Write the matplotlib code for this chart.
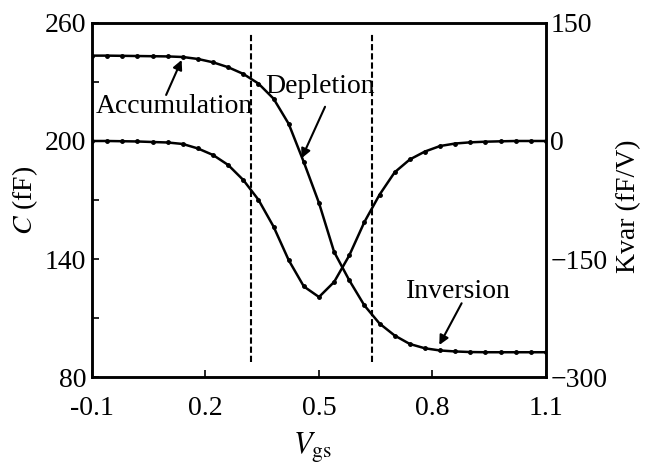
import numpy as np
import matplotlib
matplotlib.use("Agg")
import matplotlib.pyplot as plt

plt.rcParams['font.family'] = ['Liberation Serif', 'DejaVu Serif']
plt.rcParams['mathtext.fontset'] = 'stix'

# gate voltage samples (V)
vgs = [-0.10, -0.06, -0.02, 0.02, 0.06, 0.10, 0.14, 0.18, 0.22, 0.26, 0.30,
       0.34, 0.38, 0.42, 0.46, 0.50, 0.54, 0.58, 0.62, 0.66, 0.70, 0.74,
       0.78, 0.82, 0.86, 0.90, 0.94, 0.98, 1.02, 1.06, 1.10]

# capacitance C (fF), left axis
cap = [243.4, 243.4, 243.3, 243.2, 243.1, 243.0, 242.7, 241.7, 240.0, 237.5,
       234.1, 229.2, 221.5, 208.7, 189.2, 168.5, 143.6, 129.2, 116.4, 107.2,
       101.1, 96.8, 94.6, 93.5, 93.0, 92.7, 92.6, 92.6, 92.6, 92.6, 92.6]

# Kvar = dC/dV (fF/V), right axis
kvar = [0.0, 0.0, -0.3, -0.6, -1.3, -1.9, -3.8, -9.5, -17.8, -30.5, -49.6,
        -74.7, -108.9, -151.5, -184.9, -198.3, -179.2, -145.5, -103.0, -68.3,
        -39.8, -23.5, -13.4, -6.4, -3.2, -1.7, -0.9, -0.4, 0.0, 0.0, 0.0]

region_bounds = [0.32, 0.64]

xticks = [-0.1, 0.2, 0.5, 0.8, 1.1]
xticklabels = ['-0.1', '0.2', '0.5', '0.8', '1.1']
cticks = [80, 140, 200, 260]
kticks = [-300, -150, 0, 150]
kticklabels = ['\u2212300', '\u2212150', '0', '150']

fs = 20

fig = plt.figure(figsize=(6.45, 4.68), dpi=100)
ax = fig.add_axes([0.1426, 0.1944, 0.7039, 0.7565])
ax2 = ax.twinx()

ax.plot(vgs, cap, color='k', lw=1.8, marker='o', ms=2.5)
ax2.plot(vgs, kvar, color='k', lw=1.8, marker='o', ms=2.5)

for xb in region_bounds:
    ax.axvline(xb, ymin=0.043, ymax=0.972, color='k', lw=1.5,
               linestyle=(0, (3, 1.4)))

ax.set_xlim(-0.1, 1.1)
ax.set_ylim(80, 260)
ax2.set_ylim(-300, 150)

ax.set_xticks(xticks)
ax.set_xticklabels(xticklabels)
ax.set_yticks(cticks)
ax.set_yticks([110, 170, 230], minor=True)
ax.tick_params(axis='x', direction='in', length=5, width=1.2, pad=14,
               labelsize=fs, top=False)
ax.tick_params(axis='y', which='both', direction='in', length=5, width=1.2,
               pad=4, labelsize=fs)
ax2.set_yticks(kticks)
ax2.set_yticklabels(kticklabels)
ax2.tick_params(axis='y', length=0, pad=3, labelsize=fs)

for a in (ax, ax2):
    for sp in a.spines.values():
        sp.set_linewidth(1.8)

# region annotations
ax.text(0.117, 214.2, 'Accumulation', ha='center', va='baseline', fontsize=fs)
ax.annotate('', xy=(0.137, 241.2), xytext=(0.096, 223.4),
            arrowprops=dict(arrowstyle='-|>', color='k', lw=1.5,
                            mutation_scale=14, shrinkA=0, shrinkB=0))
ax.text(0.504, 224.3, 'Depletion', ha='center', va='baseline', fontsize=fs)
ax.annotate('', xy=(0.454, 191.2), xytext=(0.516, 217.4),
            arrowprops=dict(arrowstyle='-|>', color='k', lw=1.5,
                            mutation_scale=14, shrinkA=0, shrinkB=0))
ax.text(0.868, 120.2, 'Inversion', ha='center', va='baseline', fontsize=fs)
ax.annotate('', xy=(0.818, 96.3), xytext=(0.877, 117.5),
            arrowprops=dict(arrowstyle='-|>', color='k', lw=1.5,
                            mutation_scale=14, shrinkA=0, shrinkB=0))

fig.text(0.0388, 0.5726, r'$C$ (fF)', rotation=90, ha='center', va='center',
         fontsize=fs)
fig.text(0.975, 0.56, 'Kvar (fF/V)', rotation=90, ha='center', va='center',
         fontsize=fs)
fig.text(0.485, 0.0427, r'$V_{\mathrm{gs}}$', ha='center', va='center',
         fontsize=fs + 2)

fig.savefig('out.png', dpi=100)
